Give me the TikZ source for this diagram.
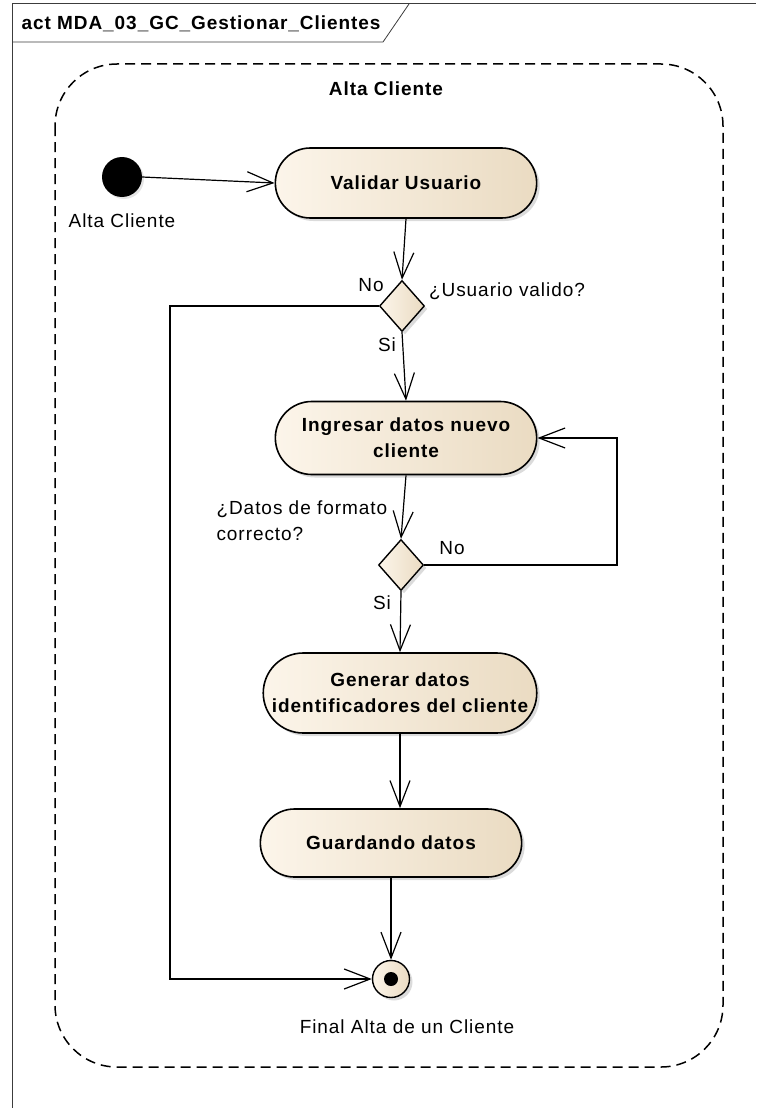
\documentclass[tikz,border=0pt]{standalone}
\usepackage{fontspec}
\setmainfont[LetterSpace=5]{Liberation Sans}
\usepackage{tikz}
\usetikzlibrary{shapes.geometric, shapes.misc, arrows.meta, shadows}

\definecolor{creamL}{RGB}{252,245,234}
\definecolor{creamR}{RGB}{234,219,194}
\definecolor{framegray}{RGB}{60,60,60}

\begin{document}
\begin{tikzpicture}[
    x=1pt, y=-1pt,
    font=\fontsize{19}{23}\selectfont,
    action/.style={rounded rectangle, draw=black, line width=1.6pt, left color=creamL, right color=creamR,
        minimum width=268pt, minimum height=70pt, align=center, font=\fontsize{19}{26}\selectfont\bfseries,
        drop shadow={shadow xshift=3pt, shadow yshift=-3pt, fill=black!28}},
    decision/.style={diamond, draw=black, line width=1.4pt, left color=creamL, right color=creamR,
        minimum width=45pt, minimum height=51pt, inner sep=0pt,
        drop shadow={shadow xshift=3pt, shadow yshift=-3pt, fill=black!28}},
    initial/.style={circle, fill=black, minimum size=40pt, inner sep=0pt,
        drop shadow={shadow xshift=2pt, shadow yshift=-2pt, fill=black!20}},
    final/.style={circle, draw=black, line width=1.4pt, left color=creamL, right color=creamR,
        minimum size=37pt, inner sep=0pt,
        path picture={\fill[black] (path picture bounding box.center) circle (7pt);},
        drop shadow={shadow xshift=3pt, shadow yshift=-3pt, fill=black!28}},
    flow/.style={line width=1.2pt, -{Straight Barb[length=26pt, width=20pt]}},
    region/.style={line width=1.5pt, dash pattern=on 10pt off 6pt, rounded corners=62pt}
]
\useasboundingbox (0,0) rectangle (756,1108);

% Frame
\draw[framegray, line width=1pt] (12,1108) -- (12,4) -- (756,4);
\draw[framegray, line width=0.8pt] (12,42) -- (383,42) -- (409,4);
\node[anchor=west, font=\fontsize{19}{23}\selectfont\bfseries] (title) at (18,24) {act MDA\_03\_GC\_Gestionar\_Clientes};

% Region
\draw[region] (55,64) rectangle (723,1067);
\node[font=\fontsize{19}{23}\selectfont\bfseries] (regionlbl) at (386,89) {Alta Cliente};

% Nodes
\node[initial] (init) at (122,177) {};
\node (initlbl) at (122,221) {Alta Cliente};

\node[action] (validar) at (406,183) {Validar Usuario};
\node[decision] (d1) at (402,306) {};
\node[action, minimum height=73pt] (ingresar) at (406,438) {Ingresar datos nuevo\\cliente};
\node[decision] (d2) at (401,565) {};
\node[action, minimum width=267pt, minimum height=80pt] (generar) at (400,693) {Generar datos\\identificadores del cliente};
\node[action, minimum height=68pt] (guardar) at (391,843) {Guardando datos};
\node[final] (fin) at (391,979) {};
\node (finlbl) at (407,1027) {Final Alta de un Cliente};

% Guards
\node (no1) at (371,285) {No};
\node (q1) at (507,291) {¿Usuario valido?};
\node (si1) at (387,345) {Si};
\node[anchor=north west, align=left, font=\fontsize{19}{26}\selectfont] (q2) at (213,497) {¿Datos de formato\\correcto?};
\node (no2) at (452,548) {No};
\node (si2) at (382,603) {Si};

\coordinate (nobend) at (170,306);
\coordinate (loopbend) at (617,565);

% Paths
\draw[flow] (init.east) -- (validar.west);
\draw[flow] (validar.south) -- (d1.north);
\draw[flow] (d1.south) -- (ingresar.north);
\draw[flow] (ingresar.south) -- (d2.north);
\draw[flow] (d2.south) -- (generar.north);
\draw[flow] (generar.south) -- (generar.south |- guardar.north);
\draw[flow] (guardar.south) -- (fin.north);
\draw[flow] (d1.west) -- (nobend) |- (fin.west);
\draw[flow] (d2.east) -- (loopbend) |- (ingresar.east);
\end{tikzpicture}
\end{document}
